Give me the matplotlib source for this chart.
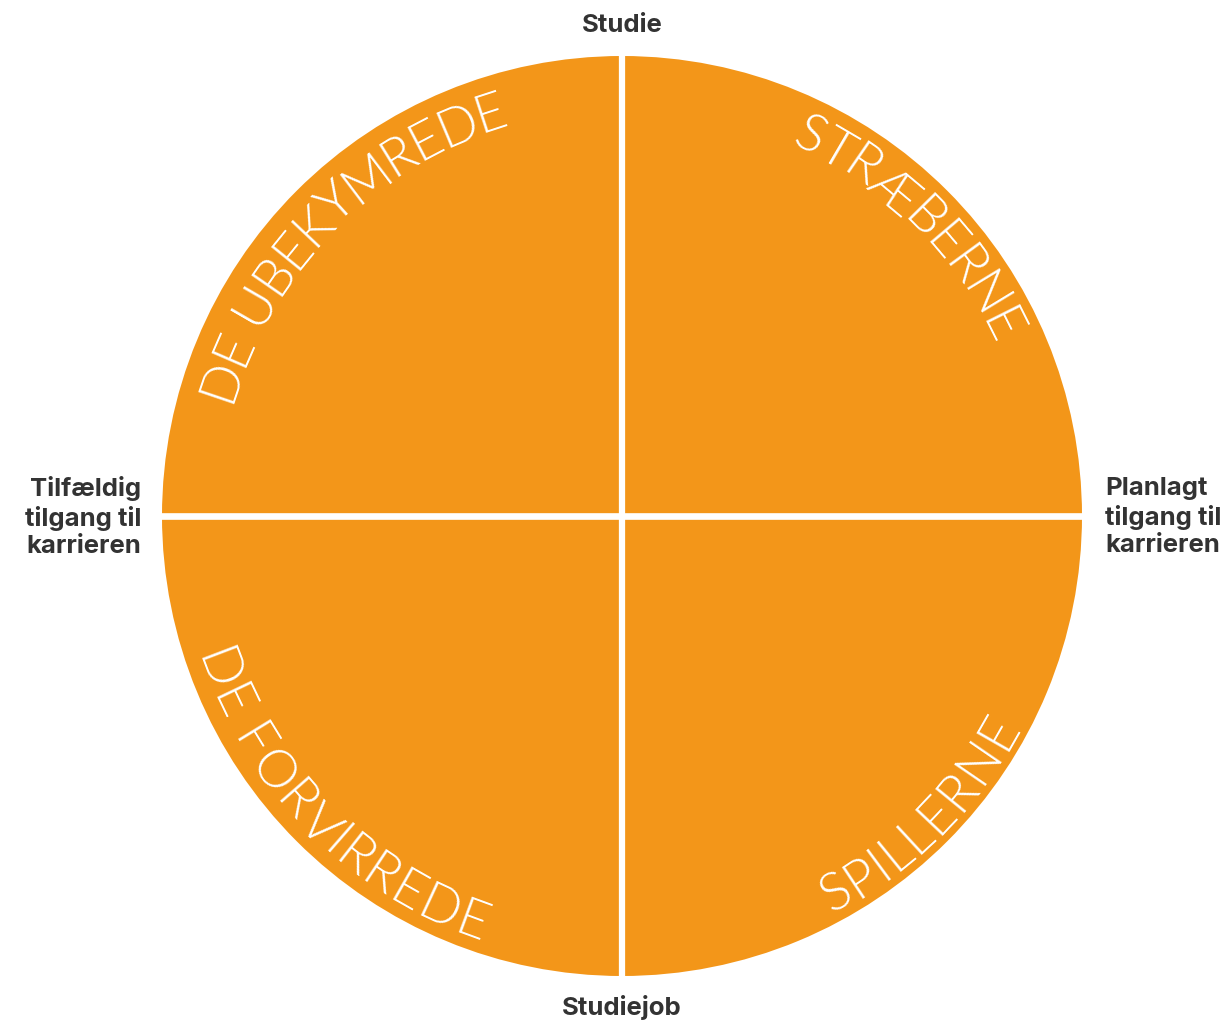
import matplotlib
matplotlib.use('Agg')
import numpy as np
import matplotlib.pyplot as plt
from matplotlib.font_manager import FontProperties, findfont
from matplotlib.ft2font import FT2Font

# quadrant names, counter-clockwise from the upper right
segments = ['STRÆBERNE', 'DE UBEKYMREDE', 'DE FORVIRREDE', 'SPILLERNE']
shares = [1, 1, 1, 1]

label_top = 'Studie'
label_bottom = 'Studiejob'
label_left = 'Tilfældig\ntilgang til\nkarrieren'
label_right = 'Planlagt\ntilgang til\nkarrieren'

ORANGE = '#F39619'
DARK = '#333333'

W, H = 1229, 1023
fig = plt.figure(figsize=(W / 100, H / 100), dpi=100)
ax = fig.add_axes([0, 0, 1, 1])

cx, cy, R = 622, H - 516, 460
wedges, _ = ax.pie(shares, radius=R, center=(cx, cy), startangle=0,
                   counterclock=True, colors=[ORANGE] * len(shares),
                   wedgeprops=dict(linewidth=0))
ax.set_xlim(0, W)
ax.set_ylim(0, H)
ax.set_aspect('equal')
ax.axis('off')

# white dividing cross
ax.plot([cx, cx], [cy - R - 3, cy + R + 3], color='white', lw=4.5,
        solid_capstyle='butt')
ax.plot([cx - R - 3, cx + R + 3], [cy, cy], color='white', lw=4.8,
        solid_capstyle='butt')

ARC_SIZE = 38
arc_fp = FontProperties(family=['Lato', 'Roboto', 'DejaVu Sans'],
                        weight=300, size=ARC_SIZE)
ft = FT2Font(findfont(arc_fp))
ft.set_size(ARC_SIZE, 100)


def advances(s):
    return np.array([ft.load_char(ord(c)).linearHoriAdvance / 65536
                     for c in s])


def arc_text(name, mid_deg, r_mid=429, r_top=408, r_bottom=449, track=1.0):
    """Place a word along the circle, one character at a time"""
    upper = 0 < mid_deg < 180
    adv = advances(name) * track
    centers = np.cumsum(adv) - adv / 2
    total = adv.sum()
    for ch, pos in zip(name, centers):
        if ch == ' ':
            continue
        shift = np.degrees((total / 2 - pos) / r_mid)
        if upper:
            ang = mid_deg + shift
            rot = ang - 90
            rb = r_top
        else:
            ang = mid_deg - shift
            rot = ang + 90
            rb = r_bottom
        x = cx + rb * np.cos(np.radians(ang))
        y = cy + rb * np.sin(np.radians(ang))
        ax.text(x, y, ch, fontproperties=arc_fp, color='white',
                rotation=rot, rotation_mode='anchor',
                ha='center', va='baseline')


for wedge, name in zip(wedges, segments):
    arc_text(name, (wedge.theta1 + wedge.theta2) / 2)

lab = dict(family=['Inter', 'Roboto', 'DejaVu Sans'], weight='bold',
           size=18.5, color=DARK)
ax.text(cx, H - 25, label_top, ha='center', va='center', **lab)
ax.text(cx, H - 1008, label_bottom, ha='center', va='center', **lab)
ax.text(141, H - 517, label_left, ha='right', va='center',
        multialignment='right', linespacing=1.25, **lab)
ax.text(1105, H - 517, label_right, ha='left', va='center',
        multialignment='left', linespacing=1.25, **lab)

fig.savefig('out.png', dpi=100)
